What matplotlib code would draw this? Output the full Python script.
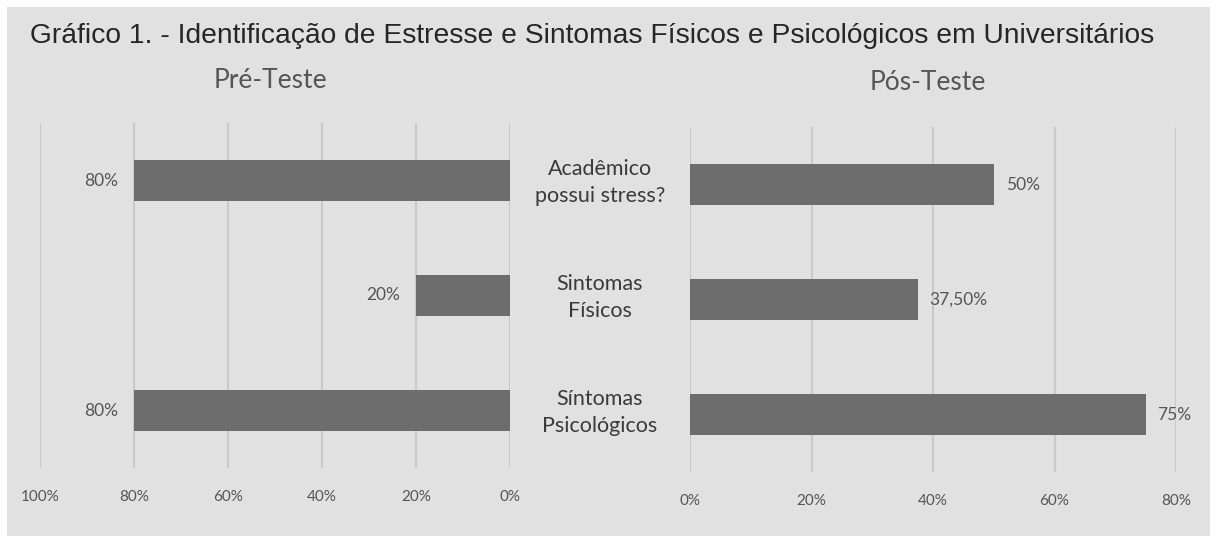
import numpy as np
import matplotlib.pyplot as plt
from matplotlib.patches import Rectangle

#%% DATA

categorias = ['Acadêmico\npossui stress?', 'Sintomas\nFísicos', 'Síntomas\nPsicológicos']
pre_teste = [0.80, 0.20, 0.80]
pos_teste = [0.50, 0.375, 0.75]
pre_rotulos = ['80%', '20%', '80%']
pos_rotulos = ['50%', '37,50%', '75%']
pre_ticks = [0, 0.2, 0.4, 0.6, 0.8, 1.0]
pos_ticks = [0, 0.2, 0.4, 0.6, 0.8]

#%% STYLE

W, H = 1216, 536
fundo = '#e1e1e1'
cor_barra = '#6d6d6d'
cor_grade = '#c9c9c9'
cor_texto = '#555555'
fonte = 'Lato'

fig = plt.figure(figsize=(W/100, H/100), dpi=100, facecolor='white')
fig.patches.append(Rectangle((7/W, 0), (1210-7)/W, 1-7/H, transform=fig.transFigure,
                             facecolor=fundo, edgecolor='none', zorder=-10))

def eixo(x0, x1, ytop, ybot):
    return fig.add_axes([x0/W, 1-ybot/H, (x1-x0)/W, (ybot-ytop)/H])

y = np.arange(len(categorias))

def painel(ax, valores, rotulos, ticks, xmax, esquerda):
    ax.set_facecolor('none')
    ax.barh(y, valores, height=0.36, color=cor_barra, zorder=3)
    ax.set_ylim(2.5, -0.5)
    ax.set_xlim(0, xmax)
    if esquerda:
        ax.invert_xaxis()
    for t in ticks:
        ax.axvline(t, color=cor_grade, lw=1.5, zorder=1)
    ax.set_xticks(ticks)
    ax.set_xticklabels(['%d%%' % round(t*100) for t in ticks],
                       fontsize=11, color=cor_texto, family=fonte)
    ax.tick_params(axis='x', length=0, pad=16)
    ax.set_yticks([])
    for s in ax.spines.values():
        s.set_visible(False)
    for yi, v, r in zip(y, valores, rotulos):
        if esquerda:
            ax.annotate(r, (v, yi), xytext=(-16, 0), textcoords='offset pixels',
                        ha='right', va='center', fontsize=12.5, color=cor_texto, family=fonte)
        else:
            ax.annotate(r, (v, yi), xytext=(12, 0), textcoords='offset pixels',
                        ha='left', va='center', fontsize=12.5, color=cor_texto, family=fonte)

ax1 = eixo(40, 510, 123, 468)
painel(ax1, pre_teste, pre_rotulos, pre_ticks, 1.0, True)

ax2 = eixo(690, 1176, 127, 472)
painel(ax2, pos_teste, pos_rotulos, pos_ticks, 0.8, False)

# rotulos das categorias no meio
for yi, c in zip(y, categorias):
    ax2.annotate(c, (0, yi), xytext=(-90, 2), textcoords='offset pixels',
                 ha='center', va='center', fontsize=15.5, color='#3a3a3a',
                 family=fonte, linespacing=1.45)

fig.text(30/W, 1-36/H, 'Gráfico 1. - Identificação de Estresse e Sintomas Físicos e Psicológicos em Universitários',
         fontsize=20.3, family='Liberation Sans', color='#262626', ha='left', va='center')
fig.text(270/W, 1-80/H, 'Pré-Teste', fontsize=19, family=fonte, color=cor_texto, ha='center', va='center')
fig.text(928/W, 1-82/H, 'Pós-Teste', fontsize=19, family=fonte, color=cor_texto, ha='center', va='center')

plt.savefig('out.png', dpi=100, facecolor='white')
